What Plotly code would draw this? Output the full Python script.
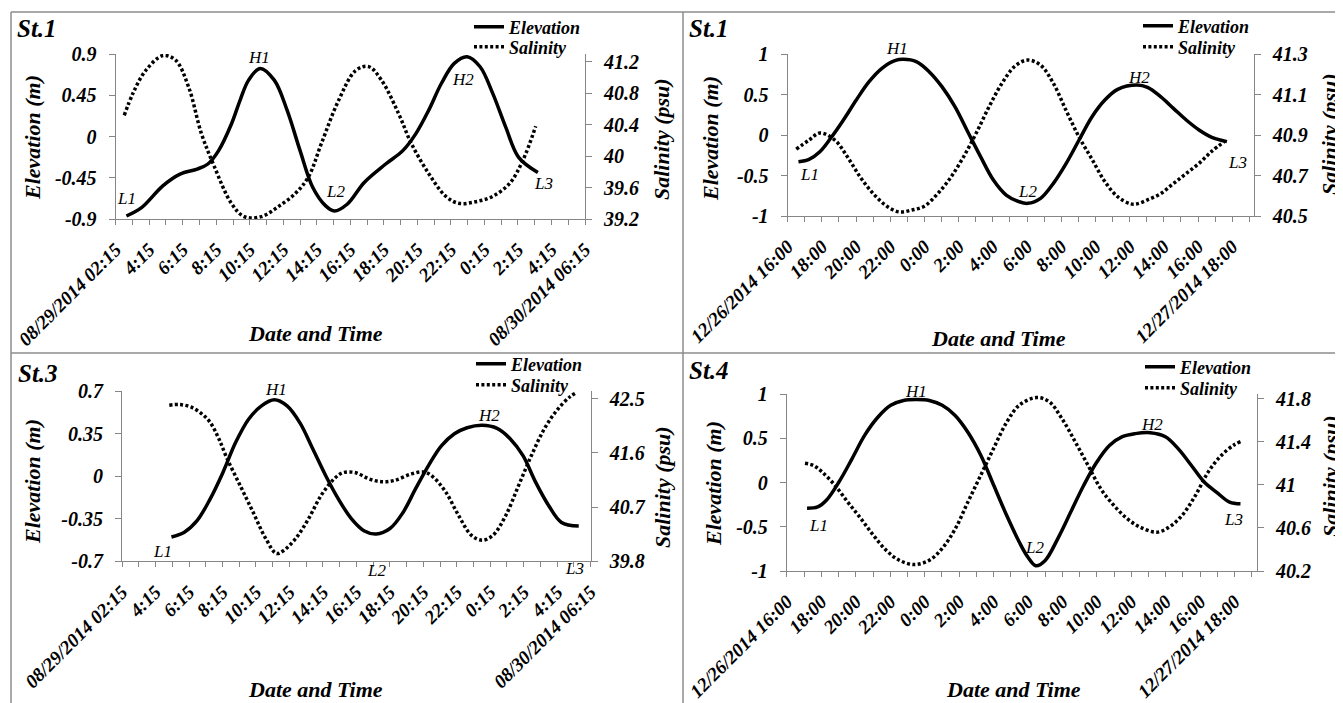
import plotly.graph_objects as go

W, H = 1343, 703
PAGE_OFFSET = 8  # default page margin around the plot div

# ---------------- data (hours since 00:00 of the first day) ----------------
# Panel 1: St.1, 08/29/2014 - 08/30/2014
P1_ELEV_T = [2.89, 3.79, 5.06, 6.09, 7.11, 7.75, 8.39, 9.16, 9.67, 10.18, 10.87, 11.71, 12.48, 13.25,
             14.01, 14.78, 15.29, 16.06, 17.08, 18.36, 19.38, 20.15, 20.92, 21.68, 22.45, 23.22,
             23.99, 24.75, 25.52, 26.29, 27.44]
P1_ELEV = [-0.867, -0.776, -0.538, -0.41, -0.355, -0.30, -0.154, 0.139, 0.395, 0.615, 0.743, 0.615,
           0.285, -0.154, -0.556, -0.757, -0.812, -0.739, -0.501, -0.30, -0.154, 0.029, 0.285, 0.578,
           0.798, 0.871, 0.761, 0.468, 0.102, -0.227, -0.392]
P1_SAL_T = [2.76, 3.28, 4.04, 5.07, 5.83, 6.6, 7.36, 8.13, 9.15, 9.92, 10.94, 11.97, 12.99, 13.76,
            14.52, 15.55, 16.57, 17.34, 18.1, 19.13, 19.89, 20.92, 21.94, 22.71, 23.73, 24.76,
            25.78, 26.55, 27.31]
P1_SAL = [40.52, 40.80, 41.09, 41.28, 41.22, 40.88, 40.29, 39.87, 39.40, 39.23, 39.23, 39.36, 39.53,
          39.74, 40.16, 40.71, 41.09, 41.14, 40.97, 40.54, 40.16, 39.78, 39.49, 39.40, 39.42, 39.49,
          39.66, 39.95, 40.38]

# Panel 2: St.1, 12/26/2014 - 12/27/2014
P2_ELEV_T = [16.63, 17.25, 17.88, 18.51, 19.26, 20.01, 20.76, 21.51, 22.27, 22.77, 23.52, 24.27,
             25.02, 25.78, 26.53, 27.28, 28.03, 28.78, 29.53, 30.04, 30.79, 31.54, 32.29, 33.04,
             33.80, 34.55, 35.30, 36.43, 37.05, 37.81, 38.56, 39.31, 40.06, 40.81, 41.69]
P2_ELEV = [-0.33, -0.30, -0.206, -0.041, 0.185, 0.432, 0.658, 0.823, 0.918, 0.934, 0.905, 0.782,
           0.597, 0.35, 0.041, -0.267, -0.556, -0.741, -0.823, -0.844, -0.782, -0.597, -0.35,
           -0.062, 0.226, 0.432, 0.564, 0.617, 0.588, 0.473, 0.329, 0.185, 0.062, -0.029, -0.082]
P2_SAL_T = [16.50, 17.25, 17.88, 18.76, 19.51, 20.26, 21.01, 21.77, 22.52, 23.27, 24.02, 24.77,
            25.53, 26.27, 27.03, 27.78, 28.53, 29.29, 30.04, 30.79, 31.54, 32.29, 33.04, 33.80,
            34.55, 35.30, 36.05, 36.43, 37.05, 37.81, 38.56, 39.31, 40.06, 40.81, 41.57]
P2_SAL = [40.83, 40.875, 40.91, 40.875, 40.79, 40.69, 40.61, 40.55, 40.52, 40.53, 40.55, 40.61,
          40.69, 40.79, 40.91, 41.04, 41.155, 41.24, 41.27, 41.245, 41.155, 41.02, 40.89, 40.78,
          40.67, 40.595, 40.56, 40.56, 40.58, 40.61, 40.66, 40.71, 40.76, 40.82, 40.87]

# Panel 3: St.3, 08/29/2014 - 08/30/2014
P3_ELEV_T = [5.20, 5.97, 6.73, 7.50, 8.27, 9.04, 9.81, 10.58, 11.35, 12.11, 12.88, 13.65, 14.42,
             15.19, 15.96, 16.73, 17.44, 18.26, 19.03, 19.80, 20.57, 21.33, 22.11, 22.87, 23.77,
             24.66, 25.44, 26.21, 26.97, 27.74, 28.51, 29.54]
P3_ELEV = [-0.50, -0.46, -0.365, -0.19, 0.03, 0.28, 0.47, 0.58, 0.63, 0.58, 0.44, 0.225, 0.005,
           -0.19, -0.35, -0.45, -0.475, -0.43, -0.30, -0.10, 0.09, 0.25, 0.35, 0.40, 0.42, 0.395,
           0.31, 0.17, -0.05, -0.24, -0.38, -0.41]
P3_SAL_T = [5.07, 5.71, 6.35, 6.99, 7.50, 8.02, 8.53, 9.30, 10.07, 10.83, 11.47, 11.86, 12.63,
            13.40, 14.16, 14.93, 15.45, 16.21, 16.98, 17.75, 18.52, 19.54, 20.31, 20.83, 21.59,
            22.36, 23.13, 23.77, 24.41, 25.18, 25.95, 26.72, 27.49, 28.25, 29.02, 29.41]
P3_SAL = [42.39, 42.40, 42.36, 42.25, 42.11, 41.84, 41.50, 41.06, 40.62, 40.18, 39.93, 39.97,
          40.18, 40.51, 40.90, 41.17, 41.27, 41.27, 41.17, 41.12, 41.14, 41.25, 41.28, 41.20,
          40.95, 40.56, 40.23, 40.15, 40.23, 40.56, 41.06, 41.56, 42.0, 42.31, 42.53, 42.60]

# Panel 4: St.4, 12/26/2014 - 12/27/2014
P4_ELEV_T = [17.17, 17.79, 18.29, 19.03, 19.78, 20.53, 21.28, 22.03, 22.77, 23.52, 24.27, 25.02,
             25.77, 26.51, 27.26, 28.01, 28.76, 29.50, 30.0, 30.45, 31.0, 31.74, 32.49, 33.24,
             33.99, 34.73, 35.48, 36.23, 37.10, 37.98, 38.72, 39.47, 40.22, 40.96, 41.71, 42.34]
P4_ELEV = [-0.29, -0.275, -0.20, 0.01, 0.27, 0.54, 0.74, 0.875, 0.93, 0.94, 0.93, 0.875, 0.76,
           0.57, 0.31, -0.03, -0.37, -0.675, -0.845, -0.94, -0.88, -0.63, -0.33, -0.03, 0.23,
           0.42, 0.52, 0.555, 0.565, 0.52, 0.385, 0.20, 0.01, -0.11, -0.22, -0.24]
P4_SAL_T = [17.05, 17.54, 18.04, 18.79, 19.53, 20.28, 21.03, 21.78, 22.52, 23.40, 24.27, 25.02,
            25.77, 26.51, 27.26, 28.01, 28.76, 29.50, 30.50, 31.24, 31.99, 32.74, 33.49, 34.24,
            34.98, 35.73, 36.48, 37.48, 38.22, 38.97, 39.72, 40.47, 41.21, 41.96, 42.34]
P4_SAL = [41.20, 41.18, 41.12, 40.995, 40.84, 40.69, 40.53, 40.39, 40.30, 40.26, 40.30, 40.41,
          40.59, 40.84, 41.09, 41.34, 41.58, 41.74, 41.81, 41.77, 41.61, 41.40, 41.18, 40.96,
          40.81, 40.69, 40.61, 40.56, 40.61, 40.72, 40.90, 41.12, 41.27, 41.37, 41.40]

# tick labels
AUG_TICK_VALS = [2.25, 4.25, 6.25, 8.25, 10.25, 12.25, 14.25, 16.25, 18.25, 20.25, 22.25, 24.25,
                 26.25, 28.25, 30.25]
AUG_TICK_TEXT = ["08/29/2014 02:15", "4:15", "6:15", "8:15", "10:15", "12:15", "14:15", "16:15",
                 "18:15", "20:15", "22:15", "0:15", "2:15", "4:15", "08/30/2014 06:15"]
DEC_TICK_VALS = [16, 18, 20, 22, 24, 26, 28, 30, 32, 34, 36, 38, 40, 42]
DEC_TICK_TEXT = ["12/26/2014 16:00", "18:00", "20:00", "22:00", "0:00", "2:00", "4:00", "6:00",
                 "8:00", "10:00", "12:00", "14:00", "16:00", "12/27/2014 18:00"]

P1_ELEV_TICKS = [-0.9, -0.45, 0, 0.45, 0.9]
P1_SAL_TICKS = [39.2, 39.6, 40, 40.4, 40.8, 41.2]
P2_ELEV_TICKS = [-1, -0.5, 0, 0.5, 1]
P2_SAL_TICKS = [40.5, 40.7, 40.9, 41.1, 41.3]
P3_ELEV_TICKS = [-0.7, -0.35, 0, 0.35, 0.7]
P3_SAL_TICKS = [39.8, 40.7, 41.6, 42.5]
P4_ELEV_TICKS = [-1, -0.5, 0, 0.5, 1]
P4_SAL_TICKS = [40.2, 40.6, 41, 41.4, 41.8]

# tide-phase labels: (text, hour, vertical pixel position in the picture)
P1_LABELS = [("L1", 2.92, 198), ("H1", 10.80, 58), ("L2", 15.39, 192), ("H2", 22.97, 80), ("L3", 27.80, 183)]
P2_LABELS = [("L1", 17.25, 175), ("H1", 22.39, 49), ("L2", 30.05, 192), ("H2", 36.55, 78), ("L3", 42.33, 163)]
P3_LABELS = [("L1", 4.64, 551), ("H1", 11.45, 389), ("L2", 17.43, 570), ("H2", 24.18, 415), ("L3", 29.27, 568)]
P4_LABELS = [("L1", 17.81, 525), ("H1", 23.51, 391), ("L2", 30.37, 547), ("H2", 37.22, 424), ("L3", 41.94, 519)]

# ---------------- style / layout helpers ----------------
SERIF = "Liberation Serif"
AXIS_GRAY = "#868686"


def fx(px):
    return (px - PAGE_OFFSET) / W


def fy(py):
    return 1 - (py - PAGE_OFFSET) / H


def fmt(v):
    return "%g" % v


PANELS = [
    dict(title="St.1", box=(115.7, 585.0, 54.0, 219.0), xr=[2.25, 30.25], yl=[-0.9, 0.9], yr=[39.2, 41.3],
         xt=(AUG_TICK_VALS, AUG_TICK_TEXT), ylt=P1_ELEV_TICKS, yrt=P1_SAL_TICKS,
         elev=(P1_ELEV_T, P1_ELEV), sal=(P1_SAL_T, P1_SAL), labels=P1_LABELS,
         st=(15, 28), etitle=(32, 138), stitle=(662, 139), dtitle=(315, 333), leg=(510, 27, 47)),
    dict(title="St.1", box=(787.7, 1253.6, 54.0, 216.0), xr=[16, 43.25], yl=[-1, 1], yr=[40.5, 41.3],
         xt=(DEC_TICK_VALS, DEC_TICK_TEXT), ylt=P2_ELEV_TICKS, yrt=P2_SAL_TICKS,
         elev=(P2_ELEV_T, P2_ELEV), sal=(P2_SAL_T, P2_SAL), labels=P2_LABELS,
         st=(687, 29), etitle=(711, 139), stitle=(1330, 134), dtitle=(998, 338), leg=(1179, 26, 47)),
    dict(title="St.3", box=(122.1, 590.6, 391.3, 561.3), xr=[2.25, 30.25], yl=[-0.7, 0.7], yr=[39.8, 42.62],
         xt=(AUG_TICK_VALS, AUG_TICK_TEXT), ylt=P3_ELEV_TICKS, yrt=P3_SAL_TICKS,
         elev=(P3_ELEV_T, P3_ELEV), sal=(P3_SAL_T, P3_SAL), labels=P3_LABELS,
         st=(16, 374), etitle=(32, 482), stitle=(662, 487), dtitle=(315, 689), leg=(512, 364, 385)),
    dict(title="St.4", box=(786.9, 1257.0, 394.3, 571.0), xr=[16, 43.3], yl=[-1, 1], yr=[40.2, 41.84],
         xt=(DEC_TICK_VALS, DEC_TICK_TEXT), ylt=P4_ELEV_TICKS, yrt=P4_SAL_TICKS,
         elev=(P4_ELEV_T, P4_ELEV), sal=(P4_SAL_T, P4_SAL), labels=P4_LABELS,
         st=(687, 370), etitle=(713, 484), stitle=(1330, 476), dtitle=(1013, 689), leg=(1181, 367, 388)),
]

TICK_FONT = dict(family=SERIF, size=20, color="black", weight="bold", style="italic")
XTICK_FONT = dict(family=SERIF, size=19, color="black", weight="bold", style="italic")
TITLE_FONT = dict(family=SERIF, size=22, color="black", weight="bold", style="italic")
LEG_FONT = dict(family=SERIF, size=18, color="black", weight="bold", style="italic")
LAB_FONT = dict(family=SERIF, size=17, color="black", style="italic")
ST_FONT = dict(family=SERIF, size=25, color="black", weight="bold", style="italic")

fig = go.Figure()
layout = dict(width=W, height=H, margin=dict(l=0, r=0, t=0, b=0, autoexpand=False),
              paper_bgcolor="white", plot_bgcolor="rgba(0,0,0,0)", showlegend=True)
annotations = []
shapes = []


def legend_name(k):
    return "legend" if k == 1 else "legend%d" % k


for i, p in enumerate(PANELS):
    n = i + 1
    xname = "x" if n == 1 else "x%d" % n
    yl_id = 2 * n - 1
    yr_id = 2 * n
    ylname = "y" if yl_id == 1 else "y%d" % yl_id
    yrname = "y%d" % yr_id
    leg_e = legend_name(2 * n - 1)
    leg_s = legend_name(2 * n)
    x0, x1, ytop, ybot = p["box"]

    fig.add_trace(go.Scatter(x=p["elev"][0], y=p["elev"][1], xaxis=xname, yaxis=ylname,
                             mode="lines", name="Elevation", legend=leg_e,
                             line=dict(color="black", width=3.5, shape="spline", smoothing=1.0)))
    fig.add_trace(go.Scatter(x=p["sal"][0], y=p["sal"][1], xaxis=xname, yaxis=yrname,
                             mode="lines", name="Salinity", legend=leg_s,
                             line=dict(color="black", width=3.5, shape="spline", smoothing=1.0,
                                       dash="3px,2.4px")))

    xkey = "xaxis" if n == 1 else "xaxis%d" % n
    ylkey = "yaxis" if yl_id == 1 else "yaxis%d" % yl_id
    yrkey = "yaxis%d" % yr_id

    layout[xkey] = dict(domain=[fx(x0), fx(x1)], anchor=ylname, range=p["xr"], automargin=False,
                        tickmode="array", tickvals=p["xt"][0], ticktext=p["xt"][1],
                        tickangle=-45, ticks="outside", ticklen=5, tickcolor=AXIS_GRAY,
                        showline=True, linecolor=AXIS_GRAY, linewidth=1.2,
                        showgrid=False, zeroline=False, tickfont=XTICK_FONT,
                        ticklabelstandoff=6,
                        minor=dict(tick0=p["xr"][0], dtick=1, ticks="outside", ticklen=5,
                                   tickcolor=AXIS_GRAY, showgrid=False))
    layout[ylkey] = dict(domain=[fy(ybot), fy(ytop)], anchor=xname, range=p["yl"], automargin=False,
                         tickmode="array", tickvals=p["ylt"], ticktext=[fmt(v) for v in p["ylt"]],
                         ticks="outside", ticklen=6, tickcolor=AXIS_GRAY,
                         showline=True, linecolor=AXIS_GRAY, linewidth=1.2,
                         showgrid=False, zeroline=False, tickfont=TICK_FONT, ticklabelstandoff=8)
    layout[yrkey] = dict(domain=[fy(ybot), fy(ytop)], anchor=xname, overlaying=ylname, side="right",
                         range=p["yr"], automargin=False, tickmode="array", tickvals=p["yrt"],
                         ticktext=[fmt(v) for v in p["yrt"]],
                         ticks="outside", ticklen=6, tickcolor=AXIS_GRAY,
                         showline=True, linecolor=AXIS_GRAY, linewidth=1.2,
                         showgrid=False, zeroline=False, tickfont=TICK_FONT, ticklabelstandoff=8)

    text_x, row1, row2 = p["leg"]
    for lname, row in ((leg_e, row1), (leg_s, row2)):
        layout[lname] = dict(x=fx(text_x - 41), y=fy(row), xanchor="left", yanchor="middle",
                             bgcolor="rgba(0,0,0,0)", borderwidth=0, font=LEG_FONT, itemwidth=30)

    # panel title and axis titles
    annotations.append(dict(text=p["title"], x=fx(p["st"][0]), y=fy(p["st"][1]),
                            xref="paper", yref="paper", xanchor="left", yanchor="middle",
                            showarrow=False, font=ST_FONT))
    annotations.append(dict(text="Elevation (m)", x=fx(p["etitle"][0]), y=fy(p["etitle"][1]),
                            xref="paper", yref="paper", xanchor="center", yanchor="middle",
                            textangle=-90, showarrow=False, font=TITLE_FONT))
    annotations.append(dict(text="Salinity (psu)", x=fx(p["stitle"][0]), y=fy(p["stitle"][1]),
                            xref="paper", yref="paper", xanchor="center", yanchor="middle",
                            textangle=-90, showarrow=False, font=TITLE_FONT))
    annotations.append(dict(text="Date and Time", x=fx(p["dtitle"][0]), y=fy(p["dtitle"][1]),
                            xref="paper", yref="paper", xanchor="center", yanchor="middle",
                            showarrow=False, font=TITLE_FONT))
    for lab, hx, py in p["labels"]:
        annotations.append(dict(text=lab, x=hx, y=fy(py), xref=xname, yref="paper",
                                xanchor="center", yanchor="middle", showarrow=False, font=LAB_FONT))

# panel frames
FRAME = dict(color="#8c8c8c", width=1.5)
for (a, b, c, d) in [(11, 12, 1351, 12), (11, 353, 1351, 353), (11, 12, 11, 711), (683, 12, 683, 711)]:
    shapes.append(dict(type="line", xref="paper", yref="paper", x0=fx(a), y0=fy(b), x1=fx(c), y1=fy(d),
                       line=FRAME))

layout["annotations"] = annotations
layout["shapes"] = shapes
fig.update_layout(**layout)

fig.write_html("out.html")
